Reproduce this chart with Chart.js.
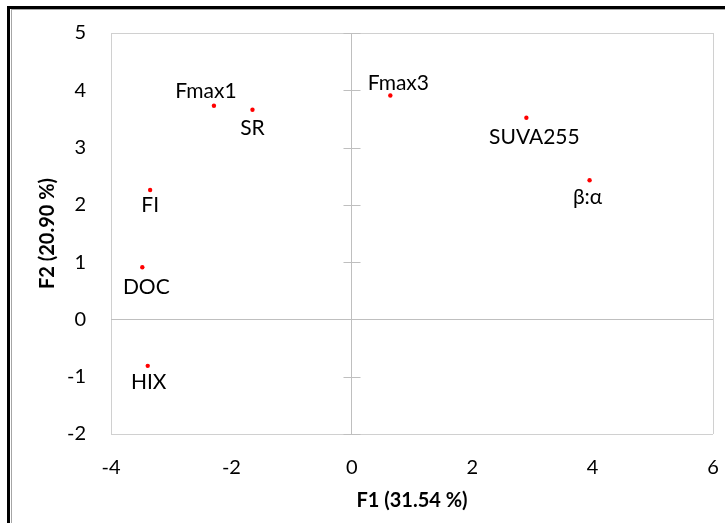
<!DOCTYPE html>
<html>
<head>
<meta charset="utf-8">
<script src="https://cdn.jsdelivr.net/npm/chart.js@4/dist/chart.umd.min.js"></script>
<style>
  html, body { margin: 0; padding: 0; background: #fff; }
  canvas { display: block; }
</style>
</head>
<body>
<canvas id="pca" width="725" height="523"></canvas>
<script>
// PCA loadings, F1 vs F2
const names = ['Fmax1', 'SR', 'FI', 'DOC', 'HIX', 'Fmax3', 'SUVA255', 'β:α'];
const f1 = [-2.29, -1.65, -3.35, -3.48, -3.39, 0.64, 2.90, 3.95];
const f2 = [3.73, 3.66, 2.26, 0.91, -0.81, 3.91, 3.52, 2.43];
const xTicks = [-4, -2, 0, 2, 4, 6];
const yTicks = [-2, -1, 0, 1, 2, 3, 4, 5];

// where each label sits relative to its dot (px)
const labelOffsets = [[-8, -15], [0, 18], [0, 15], [4, 19], [1, 16], [8, -13], [8, 19], [-2, 16]];

const FONT = 'Lato';
const axisGray = '#bfbfbf';
const frameGray = '#d0d0d0';

const points = names.map((n, i) => ({x: f1[i], y: f2[i]}));

const framePlugin = {
  id: 'frame',
  afterDraw(chart) {
    const ctx = chart.ctx;
    ctx.save();
    ctx.fillStyle = '#000';
    ctx.fillRect(7, 6, 3, 523 - 6);
    ctx.fillRect(7, 6, 725 - 7, 3);
    ctx.fillStyle = '#a6a6a6';
    ctx.fillRect(11, 10, 1, 523 - 10);
    ctx.fillRect(11, 9, 725 - 11, 1);
    ctx.restore();
  }
};

// short tick marks across the vertical axis at x = 0
const crossTicks = {
  id: 'crossTicks',
  afterDatasetsDraw(chart) {
    const {ctx, scales: {x, y}} = chart;
    const x0 = Math.round(x.getPixelForValue(0)) + 0.5;
    ctx.save();
    ctx.strokeStyle = axisGray;
    ctx.lineWidth = 1;
    yTicks.forEach(v => {
      const py = Math.round(y.getPixelForValue(v)) + 0.5;
      ctx.beginPath();
      ctx.moveTo(x0 - 9, py);
      ctx.lineTo(x0 + 8, py);
      ctx.stroke();
    });
    ctx.restore();
  }
};

const pointLabels = {
  id: 'pointLabels',
  afterDatasetsDraw(chart) {
    const {ctx, scales: {x, y}} = chart;
    ctx.save();
    ctx.font = '21px ' + FONT;
    ctx.fillStyle = '#000';
    ctx.textAlign = 'center';
    ctx.textBaseline = 'alphabetic';
    names.forEach((n, i) => {
      const px = x.getPixelForValue(f1[i]) + labelOffsets[i][0];
      const py = y.getPixelForValue(f2[i]) + labelOffsets[i][1];
      ctx.fillText(n, px, py + 7.5);
    });
    ctx.restore();
  }
};

function edgeColor(scale, v) {
  if (v === 0) return axisGray;
  if (v === scale.min || v === scale.max) return frameGray;
  return 'rgba(0,0,0,0)';
}

function noPad(s) {
  s.paddingLeft = 0;
  s.paddingRight = 0;
  s.paddingTop = 0;
  s.paddingBottom = 0;
}

new Chart(document.getElementById('pca'), {
  type: 'scatter',
  data: {
    datasets: [{
      data: points,
      pointRadius: 2.2,
      pointHoverRadius: 2.2,
      pointBackgroundColor: '#ff0000',
      pointBorderWidth: 0
    }]
  },
  options: {
    responsive: false,
    animation: false,
    events: [],
    layout: {padding: {top: 33, right: 12, left: 0, bottom: 0}},
    plugins: {legend: {display: false}, tooltip: {enabled: false}},
    scales: {
      x: {
        type: 'linear',
        min: -4, max: 6,
        afterBuildTicks: s => { s.ticks = xTicks.map(v => ({value: v})); },
        afterFit: s => { s.height = 89; noPad(s); },
        grid: {
          drawTicks: false,
          color: ctx => edgeColor(ctx.scale, ctx.tick.value),
          lineWidth: 1
        },
        border: {display: false},
        ticks: {
          padding: 22,
          color: '#000',
          font: {family: FONT, size: 20},
          maxRotation: 0
        },
        title: {
          display: true,
          text: 'F1 (31.54 %)',
          color: '#000',
          font: {family: FONT, size: 20, weight: 'bold'},
          padding: {top: 0, bottom: 10}
        }
      },
      y: {
        type: 'linear',
        min: -2, max: 5,
        afterBuildTicks: s => { s.ticks = yTicks.map(v => ({value: v})); },
        afterFit: s => { s.width = 111; noPad(s); },
        grid: {
          drawTicks: false,
          color: ctx => edgeColor(ctx.scale, ctx.tick.value),
          lineWidth: 1
        },
        border: {display: false},
        ticks: {
          padding: 25,
          color: '#000',
          font: {family: FONT, size: 20}
        },
        title: {
          display: true,
          text: 'F2 (20.90 %)',
          color: '#000',
          font: {family: FONT, size: 20, weight: 'bold'},
          padding: {top: 36, bottom: 0}
        }
      }
    }
  },
  plugins: [framePlugin, crossTicks, pointLabels]
});
</script>
</body>
</html>
